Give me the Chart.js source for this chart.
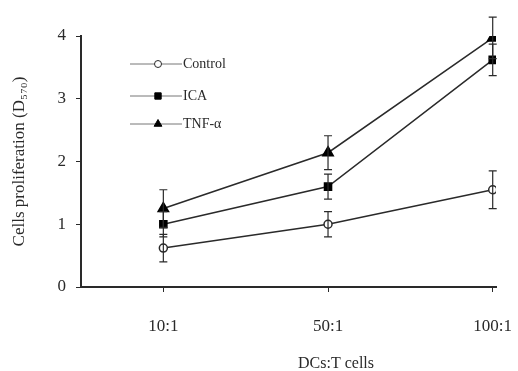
<!DOCTYPE html>
<html>
<head>
<meta charset="utf-8">
<script src="https://cdn.jsdelivr.net/npm/chart.js@4"></script>
<style>
  body { margin: 0; background: #fff; }
  #wrap { width: 518px; height: 371px; }
</style>
</head>
<body>
<div id="wrap"><canvas id="myGraph" width="518" height="371"></canvas></div>
<script>
const ratios = ['10:1', '50:1', '100:1'];
const controlVals = [0.62, 1.0, 1.55];
const controlErr = [0.22, 0.2, 0.3];
const icaVals = [1.0, 1.6, 3.62];
const icaErr = [0.2, 0.2, 0.25];
const tnfVals = [1.25, 2.14, 3.97];
const tnfErr = [0.3, 0.27, 0.33];
const yTicks = [0, 1, 2, 3, 4];

const ink = '#2a2a2a';
const serif = '"Liberation Serif", "DejaVu Serif", serif';

function toPoints(vals) {
    return vals.map((v, i) => ({ x: i + 1, y: v }));
}

// error bars + legend + x title drawn on top
const extras = {
    id: 'extras',
    afterDatasetsDraw(chart) {
        const ctx = chart.ctx;
        const xs = chart.scales.x;
        const ys = chart.scales.y;
        const errs = [controlErr, icaErr, tnfErr];
        ctx.save();
        ctx.strokeStyle = ink;
        ctx.lineWidth = 1.2;
        chart.data.datasets.forEach((ds, d) => {
            ds.data.forEach((p, i) => {
                const px = xs.getPixelForValue(p.x);
                const top = ys.getPixelForValue(p.y + errs[d][i]);
                const bot = ys.getPixelForValue(p.y - errs[d][i]);
                ctx.beginPath();
                ctx.moveTo(px, top); ctx.lineTo(px, bot);
                ctx.moveTo(px - 4, top); ctx.lineTo(px + 4, top);
                ctx.moveTo(px - 4, bot); ctx.lineTo(px + 4, bot);
                ctx.stroke();
            });
        });
        ctx.restore();
    },
    afterDraw(chart) {
        const ctx = chart.ctx;
        ctx.save();
        const rows = [
            { label: 'Control', y: 64 },
            { label: 'ICA', y: 96 },
            { label: 'TNF-α', y: 124 },
        ];
        ctx.font = '14px ' + serif;
        ctx.textBaseline = 'middle';
        rows.forEach((r, i) => {
            const ds = chart.data.datasets[i];
            ctx.strokeStyle = '#777';
            ctx.lineWidth = 1;
            ctx.beginPath();
            ctx.moveTo(130, r.y); ctx.lineTo(182, r.y);
            ctx.stroke();
            ctx.fillStyle = ds.pointBackgroundColor;
            ctx.strokeStyle = ds.pointBorderColor;
            Chart.helpers.drawPoint(ctx, {
                pointStyle: ds.pointStyle,
                radius: i === 0 ? 3.5 : 4.5,
                rotation: 0,
                borderWidth: 1,
            }, 158, r.y);
            ctx.fillStyle = ink;
            ctx.fillText(r.label, 183, r.y);
        });
        ctx.font = '16px ' + serif;
        ctx.textAlign = 'center';
        ctx.fillText('DCs:T cells', 336, 364);
        ctx.restore();
    }
};

const ctx = document.getElementById('myGraph').getContext('2d');
const data = {
    datasets: [{
        label: 'Control',
        data: toPoints(controlVals),
        borderColor: ink,
        borderWidth: 1.5,
        pointStyle: 'circle',
        pointRadius: 4,
        pointBackgroundColor: '#fff',
        pointBorderColor: ink,
    }, {
        label: 'ICA',
        data: toPoints(icaVals),
        borderColor: ink,
        borderWidth: 1.5,
        pointStyle: 'rect',
        pointRadius: 5,
        pointBackgroundColor: '#000',
        pointBorderColor: '#000',
    }, {
        label: 'TNF-α',
        data: toPoints(tnfVals),
        borderColor: ink,
        borderWidth: 1.5,
        pointStyle: 'triangle',
        pointRadius: 6,
        pointBackgroundColor: '#000',
        pointBorderColor: '#000',
    }]
};

Chart.defaults.font.family = serif;
Chart.defaults.color = ink;

let myLineChart = new Chart(ctx, {
    type: 'line',
    data: data,
    plugins: [extras],
    options: {
        responsive: false,
        animation: false,
        layout: { padding: { top: 36, right: 22, left: 0, bottom: 0 } },
        plugins: { legend: { display: false }, tooltip: { enabled: false } },
        scales: {
            x: {
                type: 'linear',
                min: 0.5,
                max: 3.02,
                afterBuildTicks: (scale) => {
                    scale.ticks = ratios.map((r, i) => ({ value: i + 1 }));
                },
                ticks: {
                    font: { size: 17 },
                    padding: 24,
                    callback: (v) => ratios[v - 1],
                },
                grid: { drawOnChartArea: false, tickLength: 5, color: ink },
                border: { color: ink, width: 2 },
                afterFit: (scale) => {
                    scale.height = 84;
                    scale.paddingLeft = 0;
                    scale.paddingRight = 0;
                },
            },
            y: {
                min: 0,
                max: 4,
                afterBuildTicks: (scale) => {
                    scale.ticks = yTicks.map(v => ({ value: v }));
                },
                ticks: { font: { size: 17 }, padding: 10 },
                grid: { drawOnChartArea: false, tickLength: 5, color: ink },
                border: { color: ink, width: 2 },
                title: {
                    display: true,
                    text: 'Cells proliferation (D₅₇₀)',
                    font: { size: 17 },
                    padding: { top: 9, bottom: 4 },
                },
                afterFit: (scale) => {
                    scale.width = 81;
                    scale.paddingTop = 0;
                    scale.paddingBottom = 0;
                },
            }
        }
    }
});
</script>
</body>
</html>
